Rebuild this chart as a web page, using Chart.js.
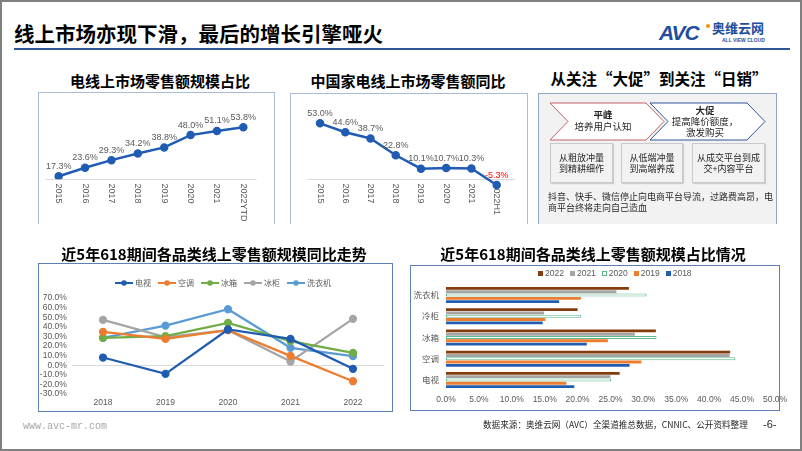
<!DOCTYPE html>
<html lang="zh-CN"><head><meta charset="utf-8">
<script src="https://cdn.jsdelivr.net/npm/chart.js@4"></script>
<style>
html,body{margin:0;padding:0;background:#fff;}
#slide{position:relative;width:802px;height:451px;overflow:hidden;font-family:"Noto Sans CJK SC","Noto Sans",sans-serif;color:#000;}
#frame{position:absolute;left:0;top:0;width:802px;height:451px;box-sizing:border-box;border:2px solid #808080;pointer-events:none;}
.t{position:absolute;white-space:nowrap;line-height:1;}
.title{position:absolute;font-weight:bold;font-size:15px;white-space:nowrap;transform:translate(-50%,-50%);line-height:1;}
.box{position:absolute;box-sizing:border-box;}
canvas{position:absolute;}
.sm{position:absolute;box-sizing:border-box;background:#F2F2F2;border:1px solid #C9C9C9;box-shadow:1px 1px 1px rgba(0,0,0,0.15);font-size:9px;color:#262626;display:flex;flex-direction:column;justify-content:center;align-items:center;line-height:11px;text-align:center;}
.lg{position:absolute;display:flex;align-items:center;font-family:"Noto Sans CJK SC",sans-serif;font-size:8px;color:#595959;line-height:1;white-space:nowrap;}
.lg .it{display:flex;align-items:center;}
</style></head>
<body>
<div id="slide">
  <div class="t" style="left:14px;top:23px;font-size:20.5px;font-weight:bold;">线上市场亦现下滑，最后的增长引擎哑火</div>
  <div style="position:absolute;left:14px;top:48px;width:776px;height:2px;background:#2F5597;"></div>
  <!-- logo -->
  <div class="t" style="left:659px;top:22px;font-family:'Liberation Sans',sans-serif;font-size:21px;font-weight:bold;font-style:italic;color:#1F4E9E;letter-spacing:-1px;">AVC</div>
  <div style="position:absolute;left:706px;top:24px;width:4px;height:4px;border-radius:50%;background:#F39800;"></div>
  <div class="t" style="left:712px;top:21px;font-size:13px;font-weight:bold;color:#1F4E9E;">奥维云网</div>
  <div class="t" style="left:722px;top:38px;font-family:'Liberation Sans',sans-serif;font-size:5px;font-weight:bold;color:#1F4E9E;">ALL VIEW CLOUD</div>

  <!-- panel 1 -->
  <div class="title" style="left:160px;top:80px;">电线上市场零售额规模占比</div>
  <div class="box" style="left:38px;top:92px;width:237px;height:132px;border:1px solid #A8BCD8;border-bottom:none;"></div>
  <canvas id="c1" width="234" height="128" style="left:39px;top:93px;"></canvas>

  <!-- panel 2 -->
  <div class="title" style="left:408px;top:80px;">中国家电线上市场零售额同比</div>
  <div class="box" style="left:290px;top:93px;width:238px;height:131px;border:1px solid #A8BCD8;border-bottom:none;"></div>
  <canvas id="c2" width="236" height="126" style="left:291px;top:94px;"></canvas>

  <!-- panel 3 -->
  <div class="title" style="left:659px;top:79px;font-size:15.5px;">从关注“大促”到关注“日销”</div>
  <div class="box" style="left:538px;top:93px;width:239px;height:131px;border:1px solid #8FA7C9;border-bottom:none;background:#F2F2F2;"></div>
  <svg style="position:absolute;left:0;top:0;" width="802" height="451">
    <polygon points="550,103 646,103 664,121.5 646,140 550,140 568,121.5" fill="#FFFFFF" stroke="#C0606A" stroke-width="1"/>
    <polygon points="650,103 747,103 765,121.5 747,140 650,140 668,121.5" fill="#FFFFFF" stroke="#2E5597" stroke-width="1"/>
  </svg>
  <div class="t" style="left:603px;top:115px;transform:translate(-50%,-50%);font-size:9.5px;font-weight:bold;color:#262626;">平峰</div>
  <div class="t" style="left:603px;top:127px;transform:translate(-50%,-50%);font-size:9.5px;color:#262626;">培养用户认知</div>
  <div class="t" style="left:705px;top:111px;transform:translate(-50%,-50%);font-size:9.5px;font-weight:bold;color:#262626;">大促</div>
  <div class="t" style="left:705px;top:122px;transform:translate(-50%,-50%);font-size:9.5px;color:#262626;">提高降价额度，</div>
  <div class="t" style="left:705px;top:133px;transform:translate(-50%,-50%);font-size:9.5px;color:#262626;">激发购买</div>
  <div class="sm" style="left:550px;top:143px;width:63px;height:40px;"><span>从粗放冲量</span><span>到精耕细作</span></div>
  <div class="sm" style="left:621px;top:143px;width:62px;height:40px;"><span>从低端冲量</span><span>到高端养成</span></div>
  <div class="sm" style="left:692px;top:143px;width:73px;height:40px;"><span>从成交平台到成</span><span>交+内容平台</span></div>
  <div class="t" style="left:548px;top:191px;font-size:9px;color:#262626;line-height:11px;">抖音、快手、微信停止向电商平台导流，过路费高昂，电<br>商平台终将走向自己造血</div>

  <!-- panel 4 -->
  <div class="title" style="left:214px;top:253px;">近5年618期间各品类线上零售额规模同比走势</div>
  <div class="box" style="left:38px;top:263px;width:355px;height:149px;border:1px solid #5E7FB3;"></div>
  <canvas id="c4" width="353" height="147" style="left:39px;top:264px;"></canvas>
  <div class="lg" id="lg4" style="left:115px;top:279px;gap:7px;"></div>

  <!-- panel 5 -->
  <div class="title" style="left:593px;top:253px;">近5年618期间各品类线上零售额规模占比情况</div>
  <div class="box" style="left:410px;top:265px;width:370px;height:146px;border:1px solid #5E7FB3;"></div>
  <canvas id="c5" width="380" height="144" style="left:411px;top:266px;"></canvas>
  <div class="lg" id="lg5" style="left:538px;top:269px;gap:6px;font-family:'Liberation Sans',sans-serif;font-size:8.5px;"></div>

  <!-- footer -->
  <div class="t" style="left:23px;top:422px;font-family:'Liberation Mono',monospace;font-size:10px;color:#A6A6A6;">www.avc-mr.com</div>
  <div class="t" style="left:483px;top:420px;font-size:8.6px;color:#262626;">数据来源：奥维云网（AVC）全渠道推总数据，CNNIC、公开资料整理</div>
  <div class="t" style="left:763px;top:419px;font-family:'Liberation Sans',sans-serif;font-size:11px;color:#262626;">-6-</div>
  <div id="frame"></div>
</div>
<script>
// ---------- data ----------
const p1Years = ['2015','2016','2017','2018','2019','2020','2021','2022YTD'];
const p1Share = [17.3, 23.6, 29.3, 34.2, 38.8, 48.0, 51.1, 53.8];

const p2Years = ['2015','2016','2017','2018','2019','2020','2021','2022H1'];
const p2Growth = [53.0, 44.6, 38.7, 22.8, 10.1, 10.7, 10.3, -5.3];

const p4Years = ['2018','2019','2020','2021','2022'];
const p4Names = ['电视','空调','冰箱','冰柜','洗衣机'];
const p4TV      = [8.0, -9.0, 37.2, 27.4, -3.8];
const p4AC      = [34.7, 27.4, 36.5, 9.7, -16.7];
const p4Fridge  = [28.5, 30.2, 44.1, 25.0, 12.8];
const p4Freezer = [47.2, 29.2, 36.5, 3.8, 48.3];
const p4Washer  = [28.5, 41.3, 58.3, 18.1, 9.4];

const p5Cats  = ['洗衣机','冷柜','冰箱','空调','电视'];
const p5Years = ['2022','2021','2020','2019','2018'];
const p5Y2022 = [27.8, 20.0, 31.9, 43.2, 26.4];
const p5Y2021 = [25.9, 14.9, 28.7, 43.1, 25.0];
const p5Y2020 = [30.5, 20.5, 32.0, 44.0, 25.1];
const p5Y2019 = [20.5, 15.1, 24.6, 29.7, 18.3];
const p5Y2018 = [17.2, 14.7, 21.4, 27.9, 19.5];

// ---------- plugins ----------
const valueLabels = {
  id: 'valueLabels',
  afterDatasetsDraw(chart, args, o) {
    if (!o || !o.enabled) return;
    const ctx = chart.ctx, meta = chart.getDatasetMeta(0), data = chart.data.datasets[0].data;
    ctx.save();
    ctx.font = o.font; ctx.textAlign = 'center'; ctx.textBaseline = 'middle';
    meta.data.forEach((pt, i) => {
      const v = data[i];
      ctx.fillStyle = v < 0 ? o.negColor : o.color;
      ctx.fillText(v.toFixed(1) + '%', pt.x, pt.y - o.offset);
    });
    ctx.restore();
  }
};
const vertAxis = {
  id: 'vertAxis',
  beforeDatasetsDraw(chart, args, o) {
    if (!o || !o.enabled) return;
    const ctx = chart.ctx, xs = chart.scales.x, ys = chart.scales.y, ca = chart.chartArea;
    const y0 = Math.round(ys.getPixelForValue(o.baseValue)) + 0.5;
    ctx.save();
    ctx.strokeStyle = o.lineColor; ctx.lineWidth = 1;
    ctx.beginPath(); ctx.moveTo(ca.left, y0); ctx.lineTo(ca.right + o.extend, y0); ctx.stroke();
    ctx.font = o.font; ctx.fillStyle = o.color; ctx.textAlign = 'left'; ctx.textBaseline = 'middle';
    chart.data.labels.forEach((lab, i) => {
      const x = xs.getPixelForValue(i);
      ctx.save(); ctx.translate(x, y0 + o.gap); ctx.rotate(Math.PI / 2); ctx.fillText(lab, 0, 0); ctx.restore();
    });
    ctx.restore();
  }
};

Chart.defaults.font.family = "'Liberation Sans', 'Noto Sans CJK SC', sans-serif";
Chart.defaults.color = '#595959';

const lineBlue = '#1F5CB2';
function smallLine(id, labels, data, yMin, yMax, pad, baseValue, extend) {
  return new Chart(document.getElementById(id), {
    type: 'line',
    data: { labels, datasets: [{ data, borderColor: lineBlue, backgroundColor: lineBlue, borderWidth: 2.5,
      pointRadius: 3, pointBackgroundColor: lineBlue, pointBorderColor: lineBlue, tension: 0 }] },
    options: {
      responsive: false, animation: false, devicePixelRatio: 1,
      layout: { padding: pad },
      scales: {
        x: { type: 'category', display: false, offset: true },
        y: { display: false, min: yMin, max: yMax }
      },
      plugins: {
        legend: { display: false }, tooltip: { enabled: false },
        valueLabels: { enabled: true, font: "9px 'Liberation Sans'", color: '#595959', negColor: '#FF0000', offset: 10 },
        vertAxis: { enabled: true, baseValue, extend, gap: 4, font: "9px 'Liberation Sans'", color: '#595959', lineColor: '#D9D9D9' }
      }
    },
    plugins: [valueLabels, vertAxis]
  });
}
smallLine('c1', p1Years, p1Share, 15, 74.2, { left: 6.5, right: 16.5, top: 7, bottom: 41.7 }, 15, 0);
smallLine('c2', p2Years, p2Growth, -10, 60, { left: 16.4, right: 17.7, top: 21.9, bottom: 30 }, 0, 6);

// ---------- panel 4 ----------
const p4Colors = ['#1F5CB2', '#ED7D31', '#70AD47', '#A5A5A5', '#5B9BD5'];
const p4Series = [p4TV, p4AC, p4Fridge, p4Freezer, p4Washer];
new Chart(document.getElementById('c4'), {
  type: 'line',
  data: { labels: p4Years, datasets: p4Series.map((d, i) => ({
    label: p4Names[i], data: d, borderColor: p4Colors[i], backgroundColor: p4Colors[i],
    pointBackgroundColor: p4Colors[i], pointBorderColor: p4Colors[i], borderWidth: 2.25, pointRadius: 3, tension: 0 })) },
  options: {
    responsive: false, animation: false, devicePixelRatio: 1,
    layout: { padding: { top: 34, right: 7.75, left: 0, bottom: 0 } },
    scales: {
      x: { type: 'category', offset: true, grid: { display: false, drawTicks: false }, border: { display: false },
        ticks: { font: { size: 8.5 }, color: '#595959', padding: 4, maxRotation: 0 },
        afterFit: s => { s.height = 17; } },
      y: { min: -30, max: 70, border: { display: false },
        grid: { drawTicks: false, color: c => (c.tick && c.tick.value === 0) ? '#D9D9D9' : 'rgba(0,0,0,0)' },
        ticks: { stepSize: 10, autoSkip: false, font: { size: 8.5 }, color: '#595959', padding: 5, callback: v => v.toFixed(1) + '%' },
        afterFit: s => { s.width = 32.75; } }
    },
    plugins: { legend: { display: false }, tooltip: { enabled: false } }
  }
});
const lg4 = document.getElementById('lg4');
p4Names.forEach((n, i) => {
  const it = document.createElement('div'); it.className = 'it';
  it.innerHTML = `<svg width="18" height="8" style="margin-right:2px"><line x1="0" y1="4" x2="18" y2="4" stroke="${p4Colors[i]}" stroke-width="2"/><circle cx="9" cy="4" r="2.8" fill="${p4Colors[i]}"/></svg><span>${n}</span>`;
  lg4.appendChild(it);
});

// ---------- panel 5 ----------
const p5Colors = ['#843C0C', '#A5A5A5', '#FFFFFF', '#ED7D31', '#1F5CB2'];
const p5Border = ['#843C0C', '#A5A5A5', '#5CB88A', '#ED7D31', '#1F5CB2'];
const p5Series = [p5Y2022, p5Y2021, p5Y2020, p5Y2019, p5Y2018];
new Chart(document.getElementById('c5'), {
  type: 'bar',
  data: { labels: p5Cats, datasets: p5Series.map((d, i) => ({
    label: p5Years[i], data: d, backgroundColor: p5Colors[i], borderColor: p5Border[i],
    borderWidth: i === 2 ? 1 : 0, borderSkipped: false, categoryPercentage: 0.78, barPercentage: 0.88 })) },
  options: {
    indexAxis: 'y', responsive: false, animation: false, devicePixelRatio: 1,
    layout: { padding: { top: 18.4, right: 12, left: 0, bottom: 0 } },
    scales: {
      x: { min: 0, max: 50, grid: { display: false, drawTicks: false }, border: { display: false },
        ticks: { stepSize: 5, autoSkip: false, font: { size: 8.5 }, color: '#595959', padding: 4, callback: v => v.toFixed(1) + '%' },
        afterFit: s => { s.height = 19.4; } },
      y: { grid: { display: false, drawTicks: false }, border: { display: false },
        ticks: { font: { size: 8.5, family: "'Noto Sans CJK SC', sans-serif" }, color: '#595959', padding: 7 },
        afterFit: s => { s.width = 35; } }
    },
    plugins: { legend: { display: false }, tooltip: { enabled: false } }
  }
});
const lg5 = document.getElementById('lg5');
p5Years.forEach((n, i) => {
  const it = document.createElement('div'); it.className = 'it';
  const st = i === 2 ? `background:#fff;border:1px solid ${p5Border[i]};box-sizing:border-box;` : `background:${p5Colors[i]};`;
  it.innerHTML = `<span style="display:inline-block;width:5px;height:5px;margin-right:2px;${st}"></span><span>${n}</span>`;
  lg5.appendChild(it);
});
</script>
</body></html>
